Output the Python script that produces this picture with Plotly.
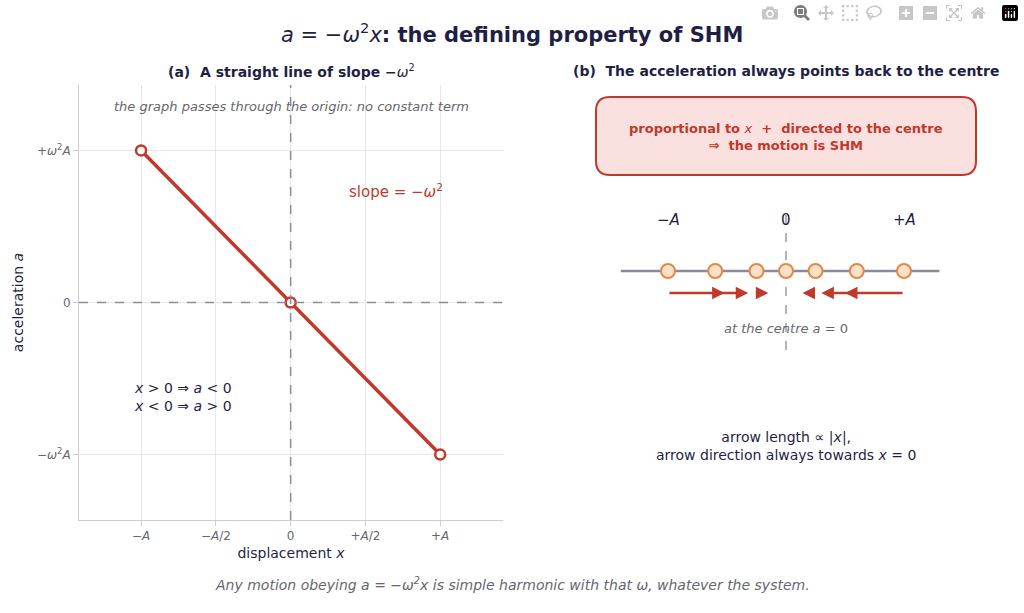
import plotly.graph_objects as go

W, H = 1024, 613
line_x = [-1, 0, 1]
line_a = [1, 0, -1]
xtick_vals = [-1, -0.5, 0, 0.5, 1]
xtick_text = ["<i>−A</i>", "<i>−A</i>/2", "0", "+<i>A</i>/2", "+<i>A</i>"]
ytick_vals = [1, 0, -1]
ytick_text = ["+<i>ω</i><sup>2</sup><i>A</i>", "0", "−<i>ω</i><sup>2</sup><i>A</i>"]
pos_x = [-1, -0.6, -0.25, 0, 0.25, 0.6, 1]
arrow_len = [0.48, 0.28, 0.1, 0, 0.11, 0.3, 0.5]
pos_labels = ["<i>−A</i>", "0", "+<i>A</i>"]
pos_label_x = [-1, 0, 1]

RED = "#c0392b"; NAVY = "#1f1f45"; GRAY = "#666670"
fig = go.Figure()
fig.add_trace(go.Scatter(x=line_x, y=line_a, mode="lines+markers",
    line=dict(color=RED, width=3.5),
    marker=dict(size=10, color="white", line=dict(color=RED, width=2.5)),
    xaxis="x", yaxis="y", showlegend=False, hoverinfo="skip"))

YL = 271
fig.add_trace(go.Scatter(x=[-1.4, 1.3], y=[YL, YL], mode="lines",
    line=dict(color="#8a8a9a", width=2.5), xaxis="x2", yaxis="y2", showlegend=False))
fig.add_trace(go.Scatter(x=[0, 0], y=[215, 355], mode="lines",
    line=dict(color="#9a9aaa", width=1.5, dash="dash"), xaxis="x2", yaxis="y2", showlegend=False))
fig.add_trace(go.Scatter(x=pos_x, y=[YL]*len(pos_x), mode="markers",
    marker=dict(size=14, color="#fde0c8", line=dict(color="#e08a4a", width=2)),
    xaxis="x2", yaxis="y2", showlegend=False))

ann = []
for px, L in zip(pos_x, arrow_len):
    if L == 0:
        continue
    s = -1 if px > 0 else 1
    ann.append(dict(x=px + s*L, y=293, ax=px, ay=293, xref="x2", yref="y2",
        axref="x2", ayref="y2", showarrow=True, arrowhead=2, arrowsize=1,
        arrowwidth=2.5, arrowcolor=RED, text=""))
for lx, lt in zip(pos_label_x, pos_labels):
    ann.append(dict(x=lx, y=220, xref="x2", yref="y2", text=lt, showarrow=False,
        font=dict(size=15, color=NAVY)))

def P(px, py, **kw):
    d = dict(x=px/W, y=1-py/H, xref="paper", yref="paper", showarrow=False,
             xanchor="center", yanchor="middle")
    d.update(kw); return d

ann += [
    P(512, 33, text="<i>a</i> = −<i>ω</i><sup>2</sup><i>x</i><b>: the defining property of SHM</b>",
      font=dict(size=21, color=NAVY)),
    P(291, 71, text="<b>(a)  A straight line of slope −</b><i>ω</i><sup>2</sup>", font=dict(size=14, color=NAVY)),
    P(786, 71, text="<b>(b)  The acceleration always points back to the centre</b>", font=dict(size=14, color=NAVY)),
    P(291, 106, text="<i>the graph passes through the origin: no constant term</i>", font=dict(size=13, color=GRAY)),
    P(396, 191, text="slope = −<i>ω</i><sup>2</sup>", font=dict(size=15, color=RED)),
    P(183, 397, text="<i>x</i> > 0 ⇒ <i>a</i> < 0<br><i>x</i> < 0 ⇒ <i>a</i> > 0", font=dict(size=14, color=NAVY), align="left"),
    P(786, 137, text="<b>proportional to </b><i>x</i><b>  +  directed to the centre<br>⇒  the motion is SHM</b>", font=dict(size=13, color=RED)),
    P(786, 328, text="<i>at the centre a</i> = 0", font=dict(size=13, color=GRAY)),
    P(786, 446, text="arrow length ∝ |<i>x</i>|,<br>arrow direction always towards <i>x</i> = 0", font=dict(size=14, color=NAVY)),
    P(512, 584, text="<i>Any motion obeying a = −ω<sup>2</sup>x is simple harmonic with that ω, whatever the system.</i>", font=dict(size=14, color=GRAY)),
]

x0, x1, y0, y1, r = 596, 976, 97, 175, 14
def pp(px, py): return f"{px/W:.5f},{1-py/H:.5f}"
path = (f"M {pp(x0+r,y0)} L {pp(x1-r,y0)} Q {pp(x1,y0)} {pp(x1,y0+r)} L {pp(x1,y1-r)} "
        f"Q {pp(x1,y1)} {pp(x1-r,y1)} L {pp(x0+r,y1)} Q {pp(x0,y1)} {pp(x0,y1-r)} "
        f"L {pp(x0,y0+r)} Q {pp(x0,y0)} {pp(x0+r,y0)} Z")
shapes = [dict(type="path", path=path, xref="paper", yref="paper",
               fillcolor="#fbe0e0", line=dict(color=RED, width=2), layer="below"),
          dict(type="line", x0=0, x1=0, y0=0, y1=1, xref="x", yref="y domain",
               line=dict(color="#8a8aa0", width=1.5, dash="dash")),
          dict(type="line", x0=0, x1=1, y0=0, y1=0, xref="x domain", yref="y",
               line=dict(color="#8a8aa0", width=1.5, dash="dash"))]

fig.update_layout(
    width=W, height=H, margin=dict(l=0, r=0, t=0, b=0),
    paper_bgcolor="white", plot_bgcolor="white",
    font=dict(family="DejaVu Sans", color=NAVY),
    annotations=ann, shapes=shapes,
    xaxis=dict(domain=[79/W, 503/W], range=[-1.415, 1.42], tickvals=xtick_vals, ticktext=xtick_text,
               showgrid=True, gridcolor="#e6e6ee", zeroline=False, showline=True, linecolor="#ccccd4",
               ticks="outside", tickcolor="#ccccd4", tickfont=dict(size=12, color=GRAY),
               title=dict(text="displacement <i>x</i>", font=dict(size=14, color=NAVY), standoff=5)),
    yaxis=dict(domain=[1-520/H, 1-85/H], range=[-1.43, 1.43], tickvals=ytick_vals, ticktext=ytick_text,
               showgrid=True, gridcolor="#e6e6ee", zeroline=False, showline=True, linecolor="#ccccd4",
               ticks="outside", tickcolor="#ccccd4", tickfont=dict(size=12, color=GRAY),
               title=dict(text="acceleration <i>a</i>", font=dict(size=14, color=NAVY), standoff=10)),
    xaxis2=dict(domain=[600/W, 980/W], range=[(600-786)/118, (980-786)/118], visible=False),
    yaxis2=dict(domain=[0, 1], range=[H, 0], visible=False, anchor="x2"),
)
fig.write_html("out.html")
with open("out.html", encoding="utf-8") as f:
    html = f.read()
html = html.replace("<head>", "<head><style>html,body{margin:0;padding:0;overflow:hidden}</style>", 1)
with open("out.html", "w", encoding="utf-8") as f:
    f.write(html)
